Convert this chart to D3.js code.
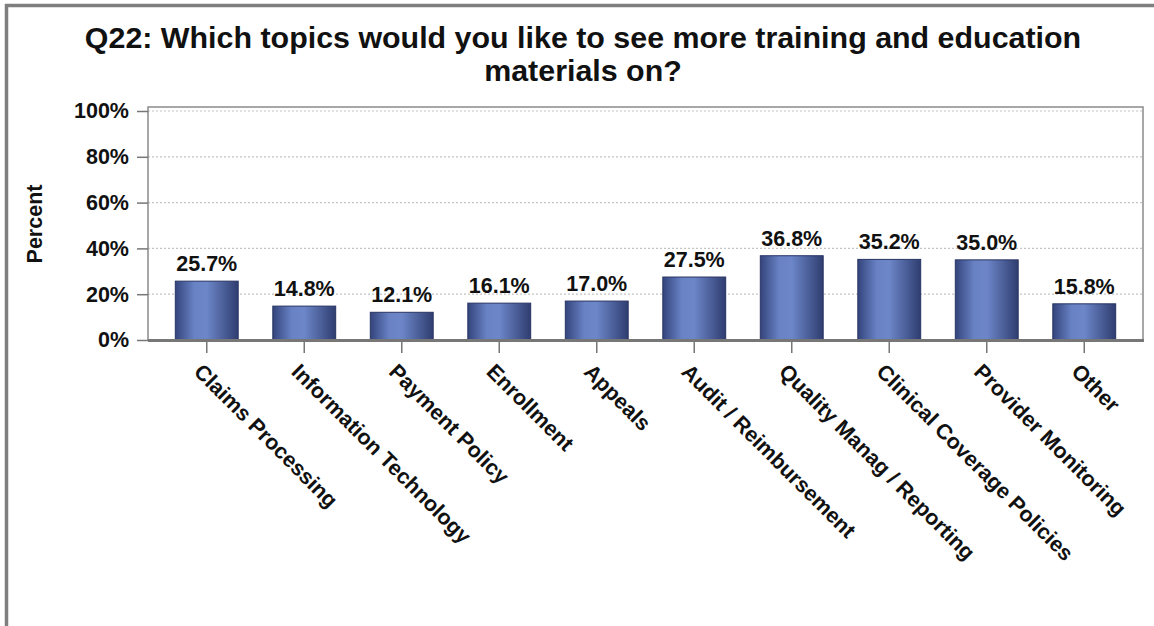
<!DOCTYPE html>
<html>
<head>
<meta charset="utf-8">
<script src="https://cdn.jsdelivr.net/npm/d3@7"></script>
<style>
  html, body { margin: 0; padding: 0; background: #fff; }
  svg { display: block; font-family: "Liberation Sans", Arial, sans-serif; }
</style>
</head>
<body>
<svg id="chart" width="1154" height="626"></svg>
<script>
// Survey topics and share of respondents (%)
const categories = [
  "Claims Processing", "Information Technology", "Payment Policy", "Enrollment",
  "Appeals", "Audit / Reimbursement", "Quality Manag / Reporting",
  "Clinical Coverage Policies", "Provider Monitoring", "Other"
];
const values = [25.7, 14.8, 12.1, 16.1, 17.0, 27.5, 36.8, 35.2, 35.0, 15.8];
const yTicks = [0, 20, 40, 60, 80, 100];
const titleLines = [
  "Q22: Which topics would you like to see more training and education",
  "materials on?"
];
const yAxisTitle = "Percent";

const svg = d3.select("#chart");
const W = 1154, H = 626;
const labelSize = 21.5;

// Outer frame (top and left edges)
svg.append("line").attr("x1", 5).attr("x2", W).attr("y1", 5.5).attr("y2", 5.5)
  .attr("stroke", "#7f7f7f").attr("stroke-width", 3.5);
svg.append("line").attr("x1", 6.5).attr("x2", 6.5).attr("y1", 4).attr("y2", H)
  .attr("stroke", "#7f7f7f").attr("stroke-width", 3.5);

// Title
svg.append("g").selectAll("text").data(titleLines).join("text")
  .attr("x", 583).attr("y", (d, i) => 48 + i * 33)
  .attr("text-anchor", "middle")
  .attr("font-size", 30.4).attr("font-weight", "bold").attr("fill", "#111")
  .text(d => d);

// Plot area
const plot = { left: 148, right: 1143, top: 107, bottom: 340 };

const y = d3.scaleLinear().domain([0, 100]).range([340, 111]);
const x = d3.scaleBand().domain(categories)
  .range([plot.left + 10, plot.right - 10])
  .paddingInner(0.355).paddingOuter(0.1775);

// Gridlines
svg.append("g").selectAll("line").data(yTicks.filter(t => t > 0)).join("line")
  .attr("x1", plot.left).attr("x2", plot.right)
  .attr("y1", d => y(d)).attr("y2", d => y(d))
  .attr("stroke", "#c4c4c4").attr("stroke-width", 1.2)
  .attr("stroke-dasharray", "2,2");

// Plot frame
svg.append("rect")
  .attr("x", plot.left).attr("y", plot.top)
  .attr("width", plot.right - plot.left).attr("height", plot.bottom - plot.top)
  .attr("fill", "none").attr("stroke", "#8a8a8a").attr("stroke-width", 1.5);

// Bar gradient
const defs = svg.append("defs");
const grad = defs.append("linearGradient").attr("id", "barGrad")
  .attr("x1", "0%").attr("x2", "100%").attr("y1", "0%").attr("y2", "0%");
[["0%", "#34447c"], ["30%", "#6882c4"], ["50%", "#6c86c8"], ["100%", "#2f3d70"]]
  .forEach(([o, c]) => grad.append("stop").attr("offset", o).attr("stop-color", c));

// Bars
svg.append("g").selectAll("rect").data(values).join("rect")
  .attr("x", (d, i) => x(categories[i]))
  .attr("y", d => y(d))
  .attr("width", x.bandwidth())
  .attr("height", d => y(0) - y(d))
  .attr("fill", "url(#barGrad)")
  .attr("stroke", "#283462").attr("stroke-width", 1);

// Value labels
svg.append("g").selectAll("text").data(values).join("text")
  .attr("x", (d, i) => x(categories[i]) + x.bandwidth() / 2)
  .attr("y", d => y(d) - 10)
  .attr("text-anchor", "middle")
  .attr("font-size", labelSize).attr("font-weight", "bold").attr("fill", "#111")
  .text(d => d.toFixed(1) + "%");

// Y axis
const yAxis = d3.axisLeft(y).tickValues(yTicks).tickFormat(d => d + "%")
  .tickSize(11).tickPadding(8);
const yG = svg.append("g").attr("transform", `translate(${plot.left},0)`).call(yAxis);
yG.select(".domain").remove();
yG.selectAll(".tick line").attr("stroke", "#777").attr("stroke-width", 1.5);
yG.selectAll(".tick text").attr("font-size", labelSize).attr("font-weight", "bold")
  .attr("fill", "#111").attr("font-family", "Liberation Sans, Arial, sans-serif");

// X axis
const xAxis = d3.axisBottom(x).tickSize(13).tickFormat("");
const xG = svg.append("g").attr("transform", `translate(0,${plot.bottom})`).call(xAxis);
xG.select(".domain").remove();
xG.selectAll(".tick line").attr("stroke", "#777").attr("stroke-width", 1.5);

// Baseline
svg.append("line").attr("x1", plot.left).attr("x2", plot.right + 1)
  .attr("y1", plot.bottom + 0.5).attr("y2", plot.bottom + 0.5)
  .attr("stroke", "#777").attr("stroke-width", 3);

// Rotated category labels
svg.append("g").selectAll("text").data(categories).join("text")
  .attr("transform", d => `translate(${x(d) + x.bandwidth() / 2 - 3},${362}) rotate(45)`)
  .attr("dy", "0.72em")
  .attr("text-anchor", "start")
  .attr("font-size", labelSize).attr("font-weight", "bold").attr("fill", "#111")
  .text(d => d);

// Y axis title
svg.append("text")
  .attr("transform", "translate(42,224) rotate(-90)")
  .attr("text-anchor", "middle")
  .attr("font-size", labelSize).attr("font-weight", "bold").attr("fill", "#111")
  .text(yAxisTitle);
</script>
</body>
</html>
